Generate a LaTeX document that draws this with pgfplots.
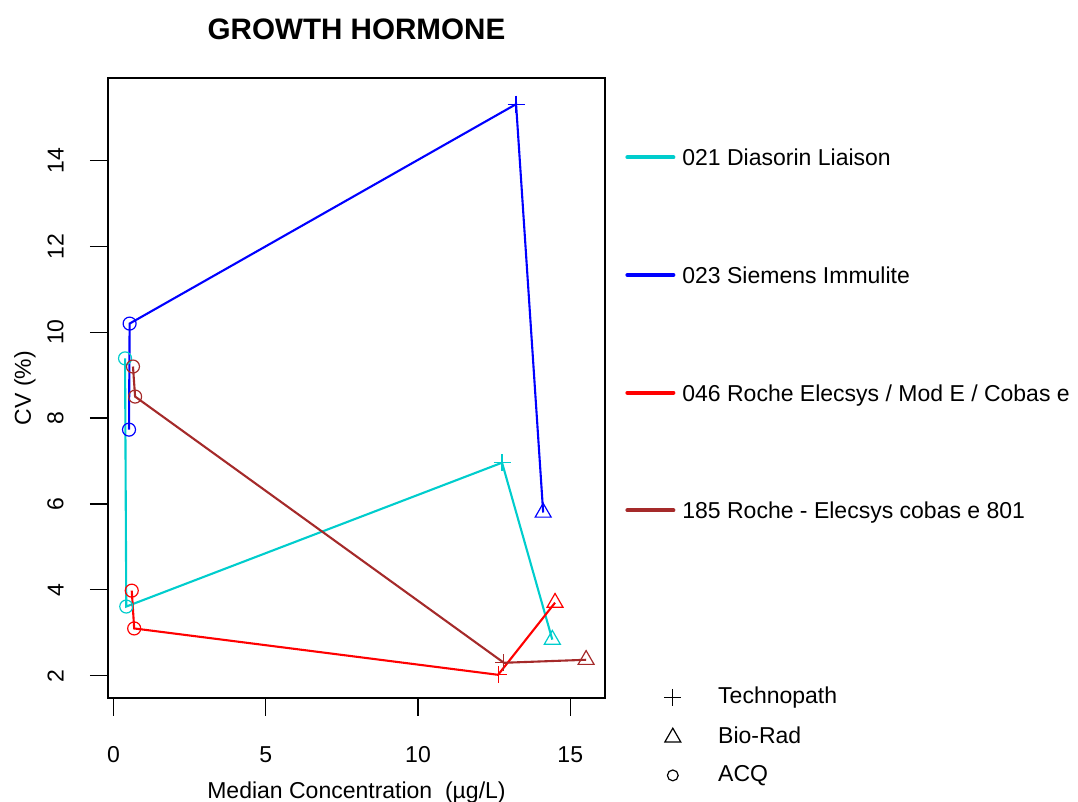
\documentclass[border=0pt]{standalone}
\usepackage{fontspec}
\setmainfont{Liberation Sans}
\usepackage{pgfplots}
\pgfplotsset{compat=1.18}
\definecolor{ccyan}{HTML}{00CDCD}
\definecolor{cblue}{HTML}{0000FF}
\definecolor{cred}{HTML}{FF0000}
\definecolor{cbrown}{HTML}{A52A2A}
\begin{document}
\fontsize{11.5pt}{13pt}\selectfont
\begin{tikzpicture}
\useasboundingbox (-54pt,-52pt) rectangle (485pt,349pt);
\begin{axis}[
  at={(0,0)}, anchor=south west,
  scale only axis, width=248.5pt, height=310pt,
  xmin=-0.18, xmax=16.14, ymin=1.48, ymax=15.92,
  axis line style={line width=0.65pt},
  xtick={0,5,10,15}, ytick={2,4,...,14},
  xtick pos=left, ytick pos=left,
  tick align=outside, major tick length=9pt,
  tick style={black, line width=0.6pt},
  /pgf/number format/assume math mode=true,
  ticklabel style={font=\fontsize{11.5pt}{13pt}\selectfont, inner sep=0pt},
  xticklabel style={anchor=north},
  xticklabel shift=15pt,
  yticklabel style={rotate=90, anchor=south},
  yticklabel shift=13pt,
  every axis title shift=0pt,
  title={GROWTH HORMONE},
  title style={font=\fontsize{14.8pt}{16pt}\selectfont\bfseries, at={(axis description cs:0.5,1.079)}, anchor=center, inner sep=0pt},
  xlabel={Median Concentration\ \ (µg/L)},
  xlabel style={font=\fontsize{11.5pt}{13pt}\selectfont, at={(axis description cs:0.5,-0.1532)}, anchor=center, inner sep=0pt},
  ylabel={CV (\%)},
  ylabel style={font=\fontsize{11.5pt}{13pt}\selectfont, at={(axis description cs:-0.167,0.5)}, anchor=center, inner sep=0pt},
  legend style={at={(axis description cs:1,1)}, anchor=north west, xshift=10pt, yshift=-35.25pt,
    draw=none, fill=none, inner sep=0pt, row sep=50.3pt, column sep=3.5pt,
    nodes={inner sep=0pt, text height=8.5pt, text depth=0pt, font=\fontsize{11.5pt}{13pt}\selectfont}},
  legend cell align=left,
  legend image code/.code={\draw[#1, line width=2pt, line cap=round] (1pt,0pt) -- (24pt,0pt);},
  mark options={solid, line width=0.6pt},
]
% lines
\addplot[ccyan, line width=1.05pt, forget plot] coordinates {(0.38,9.39) (0.42,3.61) (12.76,6.96) (14.41,2.84)};
\addplot[cblue, line width=1.05pt, forget plot] coordinates {(0.51,7.73) (0.53,10.20) (13.22,15.31) (14.11,5.80)};
\addplot[cred, line width=1.05pt, forget plot] coordinates {(0.60,3.98) (0.68,3.10) (12.63,2.02) (14.50,3.70)};
\addplot[cbrown, line width=1.05pt, forget plot] coordinates {(0.64,9.20) (0.71,8.50) (12.82,2.30) (15.52,2.37)};
% ACQ circles
\addplot[ccyan, only marks, mark=o, mark size=3.25pt, forget plot] coordinates {(0.38,9.39) (0.42,3.61)};
\addplot[cblue, only marks, mark=o, mark size=3.25pt, forget plot] coordinates {(0.51,7.73) (0.53,10.20)};
\addplot[cred, only marks, mark=o, mark size=3.25pt, forget plot] coordinates {(0.60,3.98) (0.68,3.10)};
\addplot[cbrown, only marks, mark=o, mark size=3.25pt, forget plot] coordinates {(0.64,9.20) (0.71,8.50)};
% Technopath plus
\addplot[ccyan, only marks, mark=+, mark size=4.25pt, forget plot] coordinates {(12.76,6.96)};
\addplot[cblue, only marks, mark=+, mark size=4.25pt, forget plot] coordinates {(13.22,15.31)};
\addplot[cred, only marks, mark=+, mark size=4.25pt, forget plot] coordinates {(12.63,2.02)};
\addplot[cbrown, only marks, mark=+, mark size=4.25pt, forget plot] coordinates {(12.82,2.30)};
% Bio-Rad triangles
\addplot[ccyan, only marks, mark=triangle, mark size=4.6pt, forget plot] coordinates {(14.41,2.84)};
\addplot[cblue, only marks, mark=triangle, mark size=4.6pt, forget plot] coordinates {(14.11,5.80)};
\addplot[cred, only marks, mark=triangle, mark size=4.6pt, forget plot] coordinates {(14.50,3.70)};
\addplot[cbrown, only marks, mark=triangle, mark size=4.6pt, forget plot] coordinates {(15.52,2.37)};
\addlegendimage{ccyan}
\addlegendentry{021 Diasorin Liaison}
\addlegendimage{cblue}
\addlegendentry{023 Siemens Immulite}
\addlegendimage{cred}
\addlegendentry{046 Roche Elecsys / Mod E / Cobas e}
\addlegendimage{cbrown}
\addlegendentry{185 Roche - Elecsys cobas e 801}
\end{axis}
\begin{axis}[
  at={(0,0)}, anchor=south west,
  scale only axis, width=248.5pt, height=310pt,
  xmin=0, xmax=1, ymin=0, ymax=1, hide axis,
  legend style={at={(axis description cs:1,1)}, anchor=north west, xshift=28.5pt, yshift=-304.25pt,
    draw=none, fill=none, inner sep=0pt, row sep=10.5pt, column sep=17.5pt,
    nodes={inner sep=0pt, text height=8.5pt, text depth=0pt, font=\fontsize{11.5pt}{13pt}\selectfont}},
  legend cell align=left,
  legend image code/.code={\path (-5pt,0pt) (5pt,0pt); \draw[#1] plot coordinates {(0pt,-1pt)};},
]
\addlegendimage{black, only marks, mark=+, mark size=4.25pt, mark options={line width=0.6pt}}
\addlegendentry{Technopath}
\addlegendimage{black, only marks, mark=triangle, mark size=4.6pt, mark options={line width=0.6pt}}
\addlegendentry{Bio-Rad}
\addlegendimage{black, only marks, mark=o, mark size=2.7pt, mark options={line width=0.6pt}}
\addlegendentry{ACQ}
\end{axis}
\end{tikzpicture}
\end{document}
